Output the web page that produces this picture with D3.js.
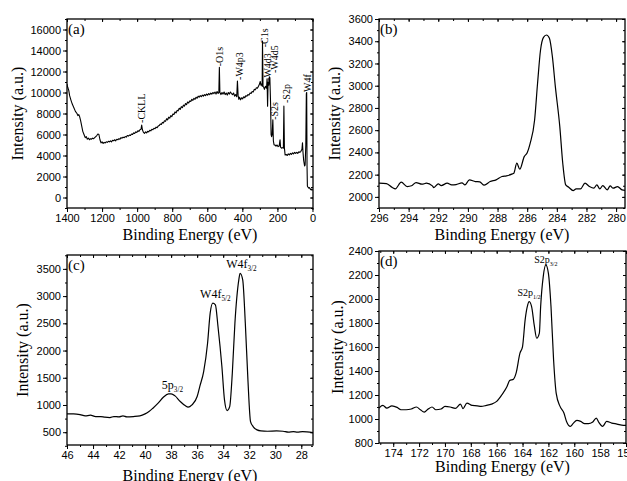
<!DOCTYPE html>
<html>
<head>
<meta charset="utf-8">
<script src="https://cdn.jsdelivr.net/npm/d3@7"></script>
<style>
  body { margin: 0; background: #fff; }
  svg { display: block; }
</style>
</head>
<body>
<div id="chart"></div>
<script>
// ---- data (binding energy eV, intensity a.u.) ----
const surveyE = [1400,1396,1390,1385,1378,1370,1362,1352,1343,1338,1333,1328,1322,1316,1310,1303,1296,1290,1284,1278,1272,1266,1260,1254,1248,1242,1236,1230,1224,1218,1212,1206,1200,1194,1188,1182,1176,1170,1164,1158,1152,1146,1140,1134,1128,1122,1116,1110,1104,1098,1092,1086,1080,1074,1068,1062,1056,1050,1044,1038,1032,1026,1020,1014,1008,1002,996,990,984,978,974,970,964,958,952,946,940,934,928,922,916,910,904,898,892,886,880,874,868,862,856,850,844,838,832,826,820,814,808,802,796,790,784,778,772,766,760,754,748,742,736,730,724,718,712,706,700,694,688,682,676,670,664,658,652,646,640,634,628,622,616,610,604,598,592,586,580,574,568,562,556,550,544,538,534,531,528,522,516,510,504,498,492,486,480,474,468,462,456,450,444,438,432,428,424,420,416,410,404,398,392,386,380,374,368,362,356,350,344,338,332,326,320,314,308,302,298,294,290,287,285,282,278,274,268,262,259,256,253,249,246,243,239,236,233,230,226,223,219,214,208,202,196,190,185,182,176,170,166,163,160,156,150,144,138,132,126,120,114,108,102,96,90,84,78,72,66,60,57,54,50,45,42,38,35,33,31,29,26,22,18,14,10,6,3,0];
const surveyI = [10800,10500,10200,9700,9300,8900,8600,8200,8000,7800,7900,7700,7300,6800,6300,6000,5700,5800,5550,5650,5500,5600,5550,5650,5600,5700,5800,5900,6050,6000,5500,5200,5300,5150,5250,5200,5300,5250,5350,5300,5400,5300,5450,5400,5500,5400,5550,5500,5600,5550,5700,5650,5750,5700,5800,5750,5900,5850,5950,5900,6050,6000,6150,6100,6250,6200,6350,6300,6450,6500,6900,6450,6200,6100,6250,6150,6300,6250,6400,6350,6500,6450,6600,6550,6700,6650,6800,6850,7000,6950,7150,7100,7300,7250,7500,7400,7650,7550,7800,7700,7950,7900,8150,8050,8300,8250,8500,8400,8650,8550,8800,8700,8950,8850,9100,9000,9200,9150,9350,9250,9450,9350,9550,9450,9650,9550,9700,9600,9750,9650,9800,9700,9850,9750,9900,9800,9950,9850,10000,9900,10050,9850,10100,9900,10000,12400,10000,9800,10000,9850,10050,9800,9950,9750,10000,9850,10050,9900,9800,9950,9650,9800,9600,11100,9700,9350,9550,9300,9500,9400,9600,9500,9700,9650,9800,9750,9950,9900,10100,10050,10300,10250,10450,10400,10600,10800,11050,10700,10800,10600,14900,10600,10500,10300,10600,10400,11300,8700,11000,10700,11500,11400,9000,6000,5800,6000,7400,5400,5000,5000,4900,5000,4850,4900,5500,4800,4700,4750,4700,8700,4700,4050,4100,4000,4150,4050,4200,4100,4250,4150,4300,4200,4300,4200,4350,4300,4400,4600,5200,4300,3500,3000,3100,5000,9900,10000,3000,1100,1000,900,950,850,750,800,700,800];

const c1sE = [296,295.5,295.1,294.9,294.5,294.1,293.8,293.5,293.1,292.8,292.4,292.3,292.0,291.8,291.4,291.1,290.8,290.4,290.2,289.9,289.5,289.2,288.9,288.5,288.1,287.7,287.4,287.0,286.9,286.7,286.5,286.2,286.0,285.8,285.5,285.3,285.1,284.9,284.7,284.5,284.3,284.1,283.8,283.6,283.4,283.2,282.9,282.7,282.4,282.1,281.8,281.5,281.3,281.1,280.9,280.6,280.4,280.2,279.9,279.6,279.3];
const c1sI = [2123,2120,2084,2072,2132,2093,2100,2129,2114,2123,2099,2084,2117,2102,2123,2108,2111,2126,2108,2153,2138,2135,2105,2138,2153,2183,2189,2207,2213,2303,2249,2362,2398,2482,2692,3022,3321,3435,3456,3426,3261,2992,2632,2303,2108,2087,2057,2072,2072,2123,2093,2078,2108,2072,2102,2063,2099,2078,2093,2063,2057];

const w4fE = [46,45.5,45.0,44.6,44.2,43.8,43.4,43.1,42.7,42.4,42.0,41.7,41.4,40.9,40.4,40.0,39.7,39.4,39.0,38.6,38.2,38.0,37.7,37.3,36.9,36.7,36.4,36.0,35.8,35.5,35.2,35.0,34.8,34.6,34.4,34.1,33.9,33.7,33.5,33.3,33.1,32.8,32.7,32.5,32.3,32.1,31.9,31.7,31.4,31.1,30.6,29.9,29.4,29.0,28.6,28.3,27.9,27.1];
const w4fI = [837,837,824,800,812,788,788,776,769,788,782,800,782,788,800,837,880,941,1033,1143,1204,1204,1167,1063,984,959,1002,1155,1339,1614,2135,2686,2870,2839,2441,1706,1094,898,971,1584,2502,3298,3420,3298,2502,1461,696,604,543,524,518,524,518,500,512,500,512,494];

const s2pE = [175.1,174.8,174.5,174.1,173.7,173.4,173.0,172.6,172.2,171.9,171.6,171.3,171.0,170.7,170.3,170.0,169.6,169.2,168.8,168.6,168.3,167.9,167.5,167.2,166.8,166.4,166.0,165.6,165.2,165.0,164.7,164.5,164.2,164.0,163.8,163.6,163.5,163.3,163.1,162.9,162.7,162.6,162.4,162.2,162.0,161.8,161.6,161.4,161.1,160.8,160.6,160.3,160.1,159.8,159.5,159.2,158.9,158.6,158.3,158.1,157.8,157.5,157.1,156.7,156.2,156.0];
const s2pI = [1091,1113,1091,1110,1097,1077,1077,1083,1100,1077,1058,1083,1100,1077,1083,1105,1100,1088,1124,1086,1133,1113,1110,1105,1113,1124,1147,1202,1271,1321,1332,1382,1549,1604,1826,1951,1979,1937,1784,1673,1715,1937,2187,2284,2214,1937,1493,1216,1105,1050,980,939,961,989,980,961,961,972,1008,972,939,980,966,958,947,947];

// peak labels of the survey (rotated), anchored at the foot of each label
const surveyLabels = ["-CKLL","-O1s","-W4p3","-C1s","-W4d3","-W4d5","-S2s","-S2p","W4f"];
const surveyLabelE = [975,530,416,276,258,214,219,150,31];
const surveyLabelI = [7100,12500,11200,14300,11100,11850,7400,9000,10050];

const serif = "'Liberation Serif','Times New Roman',serif";
const sans = "'Liberation Sans',Arial,sans-serif";

const svg = d3.select("#chart").append("svg")
    .attr("width", 627)
    .attr("height", 481);

function panel(o) {
  const x = d3.scaleLinear().domain(o.xDom).range([o.left, o.right]);
  const y = d3.scaleLinear().domain(o.yDom).range([o.bottom, o.top]);
  const g = svg.append("g");

  const styleAxis = sel => {
    sel.select(".domain").remove();
    sel.selectAll("line").attr("stroke", "#000").attr("stroke-width", 1);
    sel.selectAll("text").attr("font-family", sans).attr("font-size", 11).attr("fill", "#000");
  };

  // left
  g.append("g").attr("transform", `translate(${o.left},0)`)
      .call(d3.axisLeft(y).tickValues(o.yMinor).tickSize(2).tickFormat(""))
      .call(styleAxis);
  g.append("g").attr("transform", `translate(${o.left},0)`)
      .call(d3.axisLeft(y).tickValues(o.yMajor).tickSize(4).tickPadding(2).tickFormat(d3.format("d")))
      .call(styleAxis);
  // bottom
  g.append("g").attr("transform", `translate(0,${o.bottom})`)
      .call(d3.axisBottom(x).tickValues(o.xMinor).tickSize(2).tickFormat(""))
      .call(styleAxis);
  g.append("g").attr("transform", `translate(0,${o.bottom})`)
      .call(d3.axisBottom(x).tickValues(o.xMajor).tickSize(4).tickPadding(2).tickFormat(d3.format("d")))
      .call(styleAxis);
  // top & right mirror ticks pointing inward
  g.append("g").attr("transform", `translate(0,${o.top})`)
      .call(d3.axisBottom(x).tickValues(o.xMinor).tickSize(2).tickFormat(""))
      .call(styleAxis);
  g.append("g").attr("transform", `translate(0,${o.top})`)
      .call(d3.axisBottom(x).tickValues(o.xMajor).tickSize(3).tickFormat(""))
      .call(styleAxis);
  g.append("g").attr("transform", `translate(${o.right},0)`)
      .call(d3.axisLeft(y).tickValues(o.yMinor).tickSize(2).tickFormat(""))
      .call(styleAxis);
  g.append("g").attr("transform", `translate(${o.right},0)`)
      .call(d3.axisLeft(y).tickValues(o.yMajor).tickSize(3).tickFormat(""))
      .call(styleAxis);

  // frame
  g.append("rect")
      .attr("x", o.left).attr("y", o.top)
      .attr("width", o.right - o.left).attr("height", o.bottom - o.top)
      .attr("fill", "none").attr("stroke", "#000").attr("stroke-width", 1.3);

  // spectrum
  const clipId = "clip" + o.name;
  svg.append("clipPath").attr("id", clipId).append("rect")
      .attr("x", o.left).attr("y", o.top)
      .attr("width", o.right - o.left).attr("height", o.bottom - o.top);
  const line = d3.line()
      .x((d, i) => x(o.xs[i]))
      .y((d, i) => y(o.ys[i]))
      .curve(o.curve);
  g.append("path")
      .datum(o.ys)
      .attr("clip-path", `url(#${clipId})`)
      .attr("d", line)
      .attr("fill", "none")
      .attr("stroke", "#000")
      .attr("stroke-width", o.lw)
      .attr("stroke-linejoin", "round");

  // panel letter
  g.append("text")
      .attr("x", o.left + 1).attr("y", o.top + 15)
      .attr("font-family", serif).attr("font-size", 15)
      .text(`(${o.name})`);

  // axis titles
  g.append("text")
      .attr("x", (o.left + o.right) / 2).attr("y", o.xTitleY)
      .attr("text-anchor", "middle")
      .attr("font-family", serif).attr("font-size", 16)
      .text("Binding Energy (eV)");
  g.append("text")
      .attr("transform", `translate(${o.yTitleX},${(o.top + o.bottom) / 2}) rotate(-90)`)
      .attr("text-anchor", "middle")
      .attr("font-family", serif).attr("font-size", 16)
      .text("Intensity (a.u.)");

  return {g, x, y};
}

// (a) survey
const a = panel({
  name: "a", left: 67, right: 313, top: 19, bottom: 208,
  xDom: [1400, -3], yDom: [-1000, 17000],
  xMajor: d3.range(0, 1401, 200), xMinor: d3.range(0, 1401, 100),
  yMajor: d3.range(0, 16001, 2000), yMinor: d3.range(-1000, 17001, 1000),
  xs: surveyE, ys: surveyI, curve: d3.curveLinear, lw: 1.1,
  xTitleY: 240, yTitleX: 23
});
a.g.selectAll(".plabel")
  .data(surveyLabels)
  .join("text")
    .attr("class", "plabel")
    .attr("transform", (d, i) => `translate(${a.x(surveyLabelE[i]) + 3.5},${a.y(surveyLabelI[i])}) rotate(-90)`)
    .attr("font-family", serif).attr("font-size", 10)
    .text(d => d);

// (b) C1s
panel({
  name: "b", left: 379, right: 625, top: 19, bottom: 208,
  xDom: [296, 279.4], yDom: [1900, 3600],
  xMajor: d3.range(280, 297, 2), xMinor: d3.range(280, 297, 1),
  yMajor: d3.range(2000, 3601, 200), yMinor: d3.range(1900, 3601, 100),
  xs: c1sE, ys: c1sI, curve: d3.curveMonotoneX, lw: 1.2,
  xTitleY: 240, yTitleX: 340
});

// (c) W4f
const c = panel({
  name: "c", left: 67, right: 313, top: 255, bottom: 445,
  xDom: [46, 27.1], yDom: [265, 3755],
  xMajor: d3.range(28, 47, 2), xMinor: d3.range(28, 47, 1),
  yMajor: d3.range(500, 3501, 500), yMinor: d3.range(250, 3751, 250),
  xs: w4fE, ys: w4fI, curve: d3.curveMonotoneX, lw: 1.2,
  xTitleY: 481, yTitleX: 28
});

// (d) S2p
const d = panel({
  name: "d", left: 379, right: 626, top: 251, bottom: 443,
  xDom: [175.1, 156], yDom: [800, 2400],
  xMajor: d3.range(156, 175, 2), xMinor: d3.range(156, 176, 1),
  yMajor: d3.range(800, 2401, 200), yMinor: d3.range(800, 2401, 100),
  xs: s2pE, ys: s2pI, curve: d3.curveMonotoneX, lw: 1.2,
  xTitleY: 472, yTitleX: 343
});

// labels with subscripts
function subLabel(g, x, y, main, sub, size) {
  const t = g.append("text")
      .attr("x", x).attr("y", y)
      .attr("text-anchor", "middle")
      .attr("font-family", serif).attr("font-size", size);
  t.append("tspan").text(main);
  t.append("tspan").attr("dy", 3).attr("font-size", size * 0.6).text(sub);
}
subLabel(c.g, c.x(37.9), 389, "5p", "3/2", 12);
subLabel(c.g, c.x(34.6), 298, "W4f", "5/2", 12);
subLabel(c.g, c.x(32.6), 268, "W4f", "3/2", 12);
subLabel(d.g, d.x(163.5), 296, "S2p", "1/2", 10);
subLabel(d.g, d.x(162.2), 263, "S2p", "3/2", 10);
</script>
</body>
</html>
